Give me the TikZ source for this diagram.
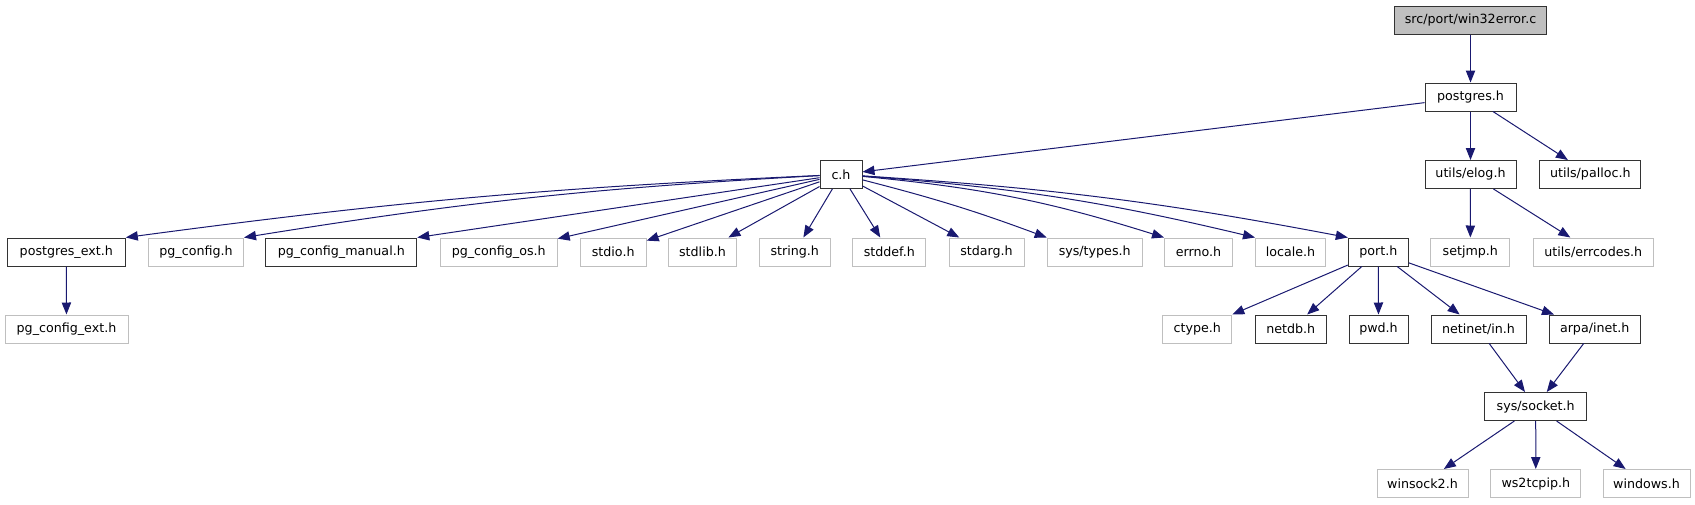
\documentclass[tikz,border=0pt]{standalone}
\usepackage{fontspec}
\setmainfont{DejaVu Sans}
\usetikzlibrary{arrows.meta}
\definecolor{edgeblue}{HTML}{191970}
\definecolor{boxgray}{HTML}{BFBFBF}

\begin{document}
\begin{tikzpicture}[
    x=0.75pt, y=-0.75pt,
    hdr/.style={draw=black!80, fill=white, line width=0.75pt, minimum height=21pt,
                inner sep=0pt, font=\fontsize{9.5}{11}\selectfont},
    ext/.style={hdr, draw=boxgray},
    root/.style={hdr, fill=boxgray},
    wd/.style={minimum width=#1*0.75pt},
    dep/.style={->, draw=edgeblue, line width=0.75pt},
    >={Triangle[length=9pt,width=7pt]}
]
\useasboundingbox (0,0) rectangle (1695,504);
% ============== top: the file and postgres.h ==================
\node[root, wd=152] (win32)    at (1470.5,20)  {src/port/win32error.c};
\node[hdr,  wd=91]  (postgres) at (1470.5,97)  {postgres.h};
\node[hdr,  wd=42]  (ch)       at (841,174.5)  {c.h};
\node[hdr,  wd=91]  (elog)     at (1470.5,174.5) {utils/elog.h};
\node[hdr,  wd=101] (palloc)   at (1590.3,174.5) {utils/palloc.h};
% ============== headers pulled in by c.h ==================
\node[hdr, wd=118] (pgext)    at (66.3,252)   {postgres\_ext.h};
\node[ext, wd=95]  (pgconf)   at (196,252)    {pg\_config.h};
\node[hdr, wd=151] (pgmanual) at (341.3,252)  {pg\_config\_manual.h};
\node[ext, wd=117] (pgos)     at (498.7,252)  {pg\_config\_os.h};
\node[ext, wd=66]  (stdio)    at (613.2,252)  {stdio.h};
\node[ext, wd=68]  (stdlib)   at (702.5,252)  {stdlib.h};
\node[ext, wd=71]  (string)   at (794.7,252)  {string.h};
\node[ext, wd=73]  (stddef)   at (889.3,252)  {stddef.h};
\node[ext, wd=75]  (stdarg)   at (986.5,252)  {stdarg.h};
\node[ext, wd=95]  (systypes) at (1094.7,252) {sys/types.h};
\node[ext, wd=68]  (errno)    at (1198.5,252) {errno.h};
\node[ext, wd=70]  (locale)   at (1290.5,252) {locale.h};
\node[hdr, wd=60]  (port)     at (1378.3,252) {port.h};
\node[ext, wd=79]  (setjmp)   at (1470.3,252) {setjmp.h};
\node[ext, wd=120] (errcodes) at (1593.3,252) {utils/errcodes.h};
% ============== next level ==================
\node[ext, wd=123] (pgcext)   at (66.5,329)   {pg\_config\_ext.h};
\node[ext, wd=69]  (ctype)    at (1197.3,329) {ctype.h};
\node[hdr, wd=71]  (netdb)    at (1290.7,329) {netdb.h};
\node[hdr, wd=59]  (pwd)      at (1378.5,329) {pwd.h};
\node[hdr, wd=95]  (netinet)  at (1478.5,329) {netinet/in.h};
\node[hdr, wd=91]  (arpa)     at (1594.7,329) {arpa/inet.h};
\node[hdr, wd=102] (socket)   at (1535.7,406.5) {sys/socket.h};
\node[ext, wd=91]  (winsock)  at (1422.5,483.5) {winsock2.h};
\node[ext, wd=90]  (ws2)      at (1535.8,483.5) {ws2tcpip.h};
\node[ext, wd=87]  (windows)  at (1646.5,483.5) {windows.h};
% ============== dependencies ==================
\draw[dep] (win32) -- (postgres);
\draw[dep] (postgres) -- (ch);
\draw[dep] (postgres) -- (elog);
\draw[dep] (postgres) -- (palloc);
\draw[dep] (elog) -- (setjmp);
\draw[dep] (elog) -- (errcodes);
% c.h fans out
\draw[dep] (ch) to[bend right=2.5] (pgext.north east);
\draw[dep] (ch) to[bend right=3] (pgconf.north east);
\draw[dep] (ch) -- (pgmanual.north east);
\draw[dep] (ch) -- (pgos);
\foreach \h in {stdio, stdlib, string, stddef, stdarg}
  \draw[dep] (ch) -- (\h);
\draw[dep] (ch) to[bend left=3] (systypes.north west);
\draw[dep] (ch) to[bend left=6] (errno.north west);
\draw[dep] (ch) to[bend left=4.5] (locale.north west);
\draw[dep] (ch) to[bend left=3.5] (port.north west);
\draw[dep] (pgext) -- (pgcext);
% port.h and sockets
\draw[dep] (port) -- (ctype.north east);
\foreach \h in {netdb, pwd, netinet, arpa}
  \draw[dep] (port) -- (\h);
\draw[dep] (netinet) -- (socket);
\draw[dep] (arpa) -- (socket);
\foreach \h in {winsock, ws2, windows}
  \draw[dep] (socket) -- (\h);
\end{tikzpicture}
\end{document}
